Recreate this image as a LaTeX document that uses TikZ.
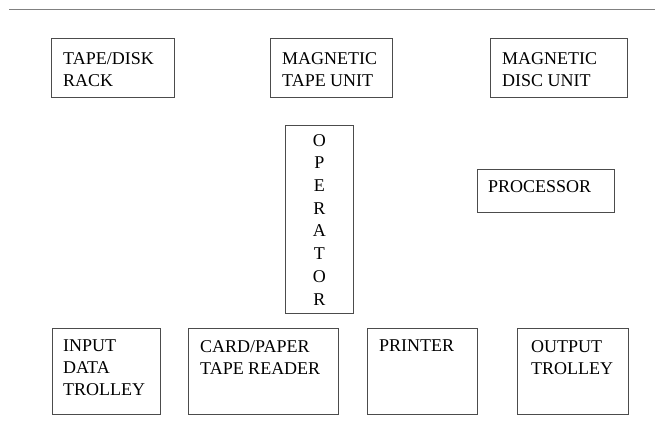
\documentclass[tikz,border=0pt]{standalone}
\usepackage{fontspec}
\setmainfont{Liberation Serif}
\begin{document}
\begin{tikzpicture}[x=1pt,y=-1pt,
    unit/.style={draw=black!70, line width=0.9pt, inner sep=0pt, anchor=north west},
    txt/.style={anchor=north west, inner sep=0pt, align=left, font=\fontsize{18}{22}\selectfont}]
    \useasboundingbox (0,0) rectangle (655,421);
    \coordinate (lineL) at (9,9.5);
    \coordinate (lineR) at (655,9.5);
    \draw[color=gray, line width=1.3pt] (lineL) -- (lineR);
    % top row
    \node[unit, minimum width=123pt, minimum height=59pt] (rack) at (51,38) {};
    \node[unit, minimum width=122pt, minimum height=59pt] (tape) at (270,38) {};
    \node[unit, minimum width=137pt, minimum height=59pt] (disc) at (490,38) {};
    \node[txt] (racktxt) at ([shift={(12,14)}]rack.north west) {TAPE/DISK\\RACK};
    \node[txt] (tapetxt) at ([shift={(12,14)}]tape.north west) {MAGNETIC\\TAPE UNIT};
    \node[txt] (disctxt) at ([shift={(12,14)}]disc.north west) {MAGNETIC\\DISC UNIT};
    % middle
    \node[unit, minimum width=68pt, minimum height=188pt] (oper) at (285,125) {};
    \node[txt, anchor=north, align=center, font=\fontsize{18}{22.7}\selectfont] (opertxt)
        at ([shift={(0,9)}]oper.north) {O\\P\\E\\R\\A\\T\\O\\R};
    \node[unit, minimum width=137pt, minimum height=43pt] (proc) at (477,169) {};
    \node[txt] (proctxt) at ([shift={(11,11)}]proc.north west) {PROCESSOR};
    % bottom row
    \node[unit, minimum width=108pt, minimum height=86pt] (input) at (52,328) {};
    \node[unit, minimum width=150pt, minimum height=86pt] (reader) at (188,328) {};
    \node[unit, minimum width=110pt, minimum height=86pt] (printer) at (367,328) {};
    \node[unit, minimum width=111pt, minimum height=86pt] (output) at (517,328) {};
    \node[txt] (inputtxt) at ([shift={(11,12)}]input.north west) {INPUT\\DATA\\TROLLEY};
    \node[txt] (readertxt) at ([shift={(12,12)}]reader.north west) {CARD/PAPER\\TAPE READER};
    \node[txt] (printertxt) at ([shift={(12,12)}]printer.north west) {PRINTER};
    \node[txt] (outputtxt) at ([shift={(14,12)}]output.north west) {OUTPUT\\TROLLEY};
\end{tikzpicture}
\end{document}
